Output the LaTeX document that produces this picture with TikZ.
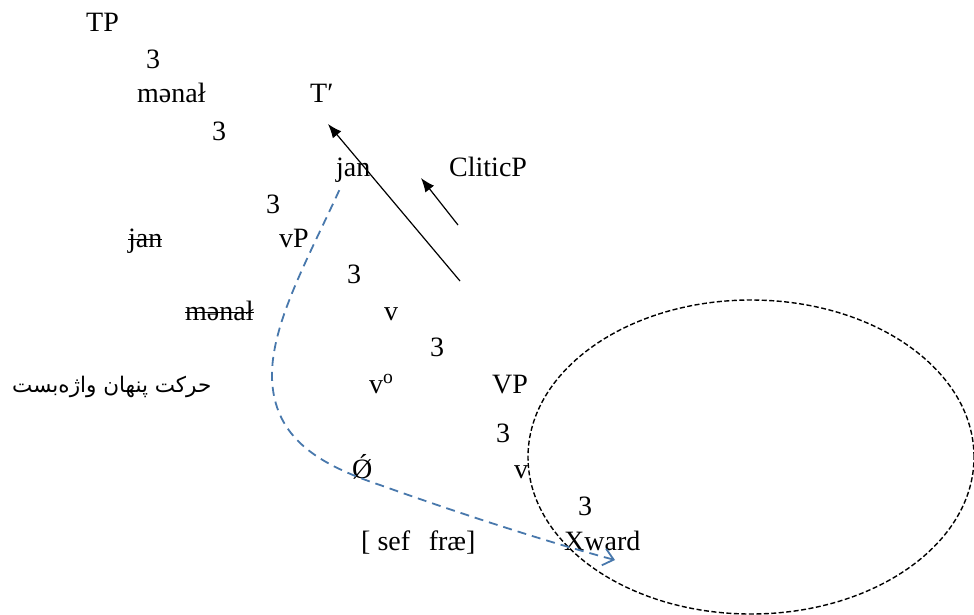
\documentclass[tikz,border=0pt]{standalone}
\usepackage{fontspec}
\setmainfont{Liberation Serif}
\newfontfamily\persianfont[Script=Arabic]{DejaVu Sans}
\usetikzlibrary{arrows.meta}
\TeXXeTstate=1
\definecolor{movblue}{RGB}{72,120,172}
\newsavebox{\strikebox}
\newcommand{\struck}[1]{\sbox{\strikebox}{#1}\rlap{\rule[0.25em]{\wd\strikebox}{1.3pt}}\usebox{\strikebox}}
\tikzset{
  lbl/.style={anchor=base west, inner sep=0pt, font=\fontsize{28}{32}\selectfont},
  move/.style={line width=1.2pt, -{Latex[length=14pt,width=11pt]}},
}
\begin{document}
\begin{tikzpicture}[x=1pt,y=-1pt]
    \useasboundingbox (0,0) rectangle (974,614);
    % tree labels
    \node[lbl] (tp) at (86,31) {TP};
    \node[lbl] (b1) at (146,68) {3};
    \node[lbl] (spec1) at (137,102) {mənał};
    \node[lbl] (tbar) at (310,102) {T′};
    \node[lbl] (b2) at (212,140) {3};
    \node[lbl] (janT) at (336,176) {jan};
    \node[lbl] (clitic) at (449,176) {CliticP};
    \node[lbl] (b3) at (266,213) {3};
    \node[lbl] (janv) at (128,247) {\struck{jan}};
    \node[lbl] (vp) at (279,247) {vP};
    \node[lbl] (b4) at (347,283) {3};
    \node[lbl] (spec2) at (185,320) {\struck{mənał}};
    \node[lbl] (vbar) at (384,320) {v};
    \node[lbl] (b5) at (430,356) {3};
    \node[lbl, font=\persianfont\fontsize{21.5}{25}\selectfont] (hidden) at (12,392) {\beginR حرکت پنهان واژه‌بست\endR};
    \node[lbl] (vzero) at (369,393) {v\textsuperscript{o}};
    \node[lbl] (VP) at (492,393) {VP};
    \node[lbl] (b6) at (496,442) {3};
    \node[lbl] (empty) at (352,478) {Ǿ};
    \node[lbl] (vV) at (514,478) {v};
    \node[lbl] (b7) at (578,515) {3};
    \node[lbl] (root) at (361,550) {[ sef\ \ \,fræ]};
    \node[lbl] (xward) at (564,550) {Xward};

    % movement arrows
    \coordinate (tailA) at (460,281); \coordinate (headA) at (328,124);
    \draw[move] (tailA) -- (headA);
    \coordinate (tailB) at (458,225); \coordinate (headB) at (421,178);
    \draw[move] (tailB) -- (headB);

    \draw[dash pattern=on 5pt off 2.5pt, line width=1.4pt] (751,457) ellipse [x radius=223pt, y radius=157pt];

    \coordinate (land) at (615,560);
    \draw[movblue, line width=1.8pt, dash pattern=on 9pt off 6pt, -{Straight Barb[length=10pt,width=17pt]}]
        ([shift={(-14,8)}]janT.south) .. controls (305,265) and (265,335) .. (273,390)
        .. controls (280,440) and (320,465) .. (380,485)
        .. controls (450,510) and (540,540) .. (land);
\end{tikzpicture}
\end{document}
